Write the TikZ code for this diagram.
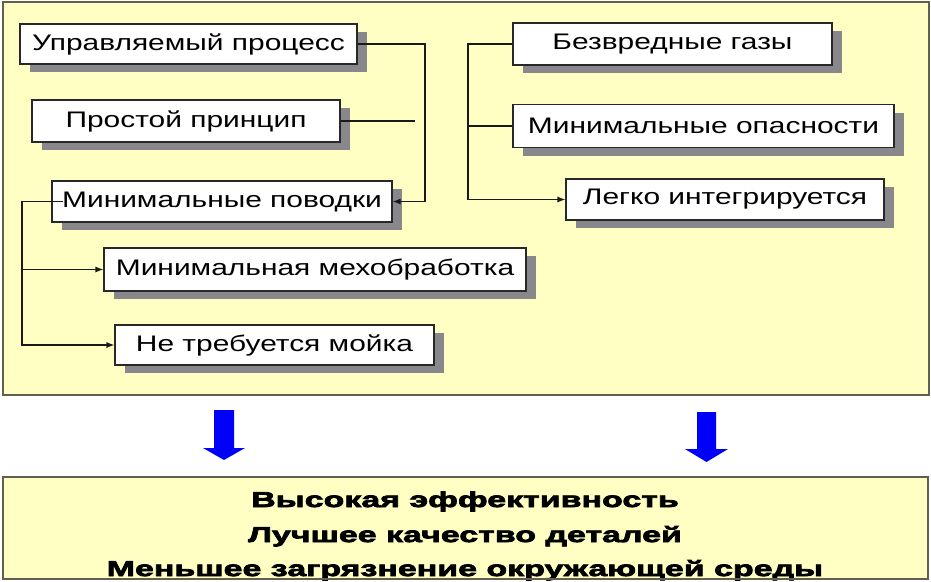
\documentclass[tikz,border=0pt]{standalone}
\usepackage{fontspec}
\setmainfont{Liberation Sans}
\newfontfamily\boxfont[FakeStretch=1.33]{Liberation Sans}
\newfontface\resfont[FakeBold=3.5,FakeStretch=1.58]{Liberation Sans Bold}
\usetikzlibrary{arrows.meta,shadows}
\definecolor{panelfill}{RGB}{255,255,196}
\definecolor{panelline}{RGB}{96,96,80}
\definecolor{boxline}{RGB}{40,40,40}
\definecolor{shadowgray}{RGB}{136,136,140}
\definecolor{arrowblue}{RGB}{0,0,250}
\begin{document}
\begin{tikzpicture}[x=1pt,y=-1pt,
  tbox/.style={draw=boxline, line width=1.1pt, fill=white, inner sep=0pt,
    font=\boxfont\fontsize{22.5}{26}\selectfont,
    general shadow={fill=shadowgray, shadow xshift=10pt, shadow yshift=-8pt}},
  conn/.style={draw=black!90, line width=1.1pt},
  arr/.style={conn, -{Latex[length=8pt,width=6pt]}},
  panel/.style={draw=panelline, line width=1.2pt, fill=panelfill},
  restext/.style={font=\resfont\fontsize{21.5}{25}\selectfont, inner sep=0pt, anchor=base},
  barrow/.style={fill=arrowblue}
]
\useasboundingbox (0,0) rectangle (931,581);
% panels
\path[panel] (3,2) rectangle (929,395);
\path[panel] (3,477) rectangle (928,579);
% boxes
\node[tbox, minimum width=337pt, minimum height=40pt] (b1) at (188.5,44) {Управляемый процесс};
\node[tbox, minimum width=308pt, minimum height=42pt] (b2) at (186,121) {Простой принцип};
\node[tbox, minimum width=340pt, minimum height=41pt] (b3) at (222,201.5) {Минимальные поводки};
\node[tbox, minimum width=422pt, minimum height=43pt] (b4) at (315,269.5) {Минимальная мехобработка};
\node[tbox, minimum width=319pt, minimum height=40pt] (b5) at (274.5,345) {Не требуется мойка};
\node[tbox, minimum width=319pt, minimum height=42pt] (b6) at (672.5,44) {Безвредные газы};
\node[tbox, minimum width=381pt, minimum height=43pt] (b7) at (703.5,126) {Минимальные опасности};
\node[tbox, minimum width=318pt, minimum height=41pt] (b8) at (725,199.5) {Легко интегрируется};
% connectors
\coordinate (r1) at (425,44);
\coordinate (e2) at (415,121);
\coordinate (s3) at (63,201.5);
\coordinate (l3) at (22,201.5);
\coordinate (rt) at (468,44);
\draw[arr] (b1.east) -- (r1) |- (b3.east);
\draw[conn] (b2.east) -- (e2);
\draw[arr] (s3) -- (l3) |- (b5.west);
\draw[arr] (l3 |- b4.west) -- (b4.west);
\draw[arr] (b6.west) -- (rt) |- (b8.west);
\draw[conn] (b7.west) -- (rt |- b7.west);
% blue arrows
\fill[barrow] (214,410) -- (234,410) -- (234,448) -- (245,448) -- (224,460) -- (203,448) -- (214,448) -- cycle;
\fill[barrow] (697,412) -- (716,412) -- (716,449) -- (728,449) -- (706.5,462) -- (685,449) -- (697,449) -- cycle;
% result text
\node[restext] (t1) at (465,507) {Высокая эффективность};
\node[restext] (t2) at (465,542) {Лучшее качество деталей};
\node[restext] (t3) at (465,576) {Меньшее загрязнение окружающей среды};
\draw[panelline, line width=1.2pt] (3,579) -- (928,579);
\end{tikzpicture}
\end{document}
